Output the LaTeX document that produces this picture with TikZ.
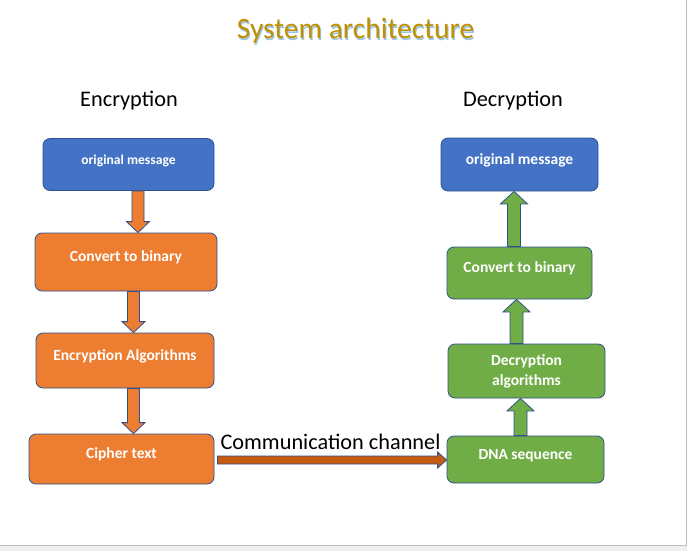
\documentclass[tikz,border=0pt]{standalone}
\usepackage{fontspec}
\setmainfont{Carlito}
\usepackage{tikz}
\usetikzlibrary{calc}
\definecolor{boxblue}{RGB}{68,114,196}
\definecolor{boxorange}{RGB}{237,125,49}
\definecolor{boxgreen}{RGB}{112,173,71}
\definecolor{edgeblue}{RGB}{47,82,143}
\definecolor{chanorange}{RGB}{197,90,17}
\definecolor{titlegold}{RGB}{191,144,0}
\definecolor{shadowblue}{RGB}{157,195,230}
% block arrows: x of shaft, node it leaves, node it reaches, fill colour
\newcommand{\blockdown}[4]{\draw[blockarr, fill=#4] let \p1=(#2.south), \p2=(#3.north) in
  (#1pt-6pt,\y1) -- (#1pt+6pt,\y1) -- (#1pt+6pt,\y2+11pt) -- (#1pt+11.5pt,\y2+11pt) -- (#1pt,\y2)
  -- (#1pt-11.5pt,\y2+11pt) -- (#1pt-6pt,\y2+11pt) -- cycle;}
\newcommand{\blockup}[4]{\draw[blockarr, fill=#4] let \p1=(#2.north), \p2=(#3.south) in
  (#1pt-6.5pt,\y1) -- (#1pt+6.5pt,\y1) -- (#1pt+6.5pt,\y2-12.5pt) -- (#1pt+13.5pt,\y2-12.5pt) -- (#1pt,\y2)
  -- (#1pt-13.5pt,\y2-12.5pt) -- (#1pt-6.5pt,\y2-12.5pt) -- cycle;}
\begin{document}
\begin{tikzpicture}[x=1pt,y=-1pt,
  box/.style={draw=edgeblue, line width=0.8pt, rounded corners=7pt, text=white, inner sep=0pt, align=center, font=\fontsize{15.5}{20}\selectfont\bfseries},
  onerow/.style={text height=0.7em, text depth=0.8em},
  blockarr/.style={draw=edgeblue, line width=0.8pt, line join=miter},
  heading/.style={font=\fontsize{22.3}{26}\selectfont}]
\useasboundingbox (0,0) rectangle (687,551);
\fill[white] (0,0) rectangle (687,545);
\fill[black!6] (0,545) rectangle (687,551);
\draw[black!25, line width=1pt] (686,0) -- (686,545) -- (0,545);
\node[text=shadowblue, font=\fontsize{29.5}{34}\selectfont] (TitleShadow) at (356.5,32.5) {System architecture};
\node[text=titlegold, font=\fontsize{29.5}{34}\selectfont] (Title) at (355.5,31) {System architecture};
\node[heading] (EncLabel) at (129,101) {Encryption};
\node[heading] (DecLabel) at (513,101) {Decryption};
% encryption side
\node[box, onerow, fill=boxblue, minimum width=171pt, minimum height=52pt, font=\fontsize{13.6}{16}\selectfont\bfseries] (EncOrig) at (128.5,164.5) {original message};
\node[box, onerow, fill=boxorange, minimum width=182pt, minimum height=58pt] (EncBin) at (126,262) {Convert to binary};
\node[box, onerow, fill=boxorange, minimum width=178pt, minimum height=55pt] (EncAlg) at (125,360.5) {Encryption Algorithms};
\node[box, onerow, fill=boxorange, minimum width=185pt, minimum height=50pt] (Cipher) at (121.5,459) {Cipher text};
% decryption side
\node[box, onerow, fill=boxblue, minimum width=157pt, minimum height=53pt] (DecOrig) at (519.5,164.5) {original message};
\node[box, onerow, fill=boxgreen, minimum width=145pt, minimum height=52pt] (DecBin) at (519.5,273) {Convert to binary};
\node[box, fill=boxgreen, minimum width=157pt, minimum height=54pt] (DecAlg) at (526.5,371) {Decryption\\algorithms};
\node[box, onerow, fill=boxgreen, minimum width=157pt, minimum height=47pt] (DNA) at (525.5,459.5) {DNA sequence};
\blockdown{138}{EncOrig}{EncBin}{boxorange}
\blockdown{133.5}{EncBin}{EncAlg}{boxorange}
\blockdown{133.5}{EncAlg}{Cipher}{boxorange}
\blockup{520.5}{DNA}{DecAlg}{boxgreen}
\blockup{516.5}{DecAlg}{DecBin}{boxgreen}
\blockup{514}{DecBin}{DecOrig}{boxgreen}
% channel between the two sides
\draw[blockarr, fill=chanorange] let \p1=(Cipher.east), \p2=(DNA.west) in
  (\x1+3pt,-456pt) -- (\x2-9pt,-456pt) -- (\x2-9pt,-452pt) -- (\x2,-460pt)
  -- (\x2-9pt,-468pt) -- (\x2-9pt,-464pt) -- (\x1+3pt,-464pt) -- cycle;
\node[heading] (Channel) at (330.5,442) {Communication channel};
\end{tikzpicture}
\end{document}
